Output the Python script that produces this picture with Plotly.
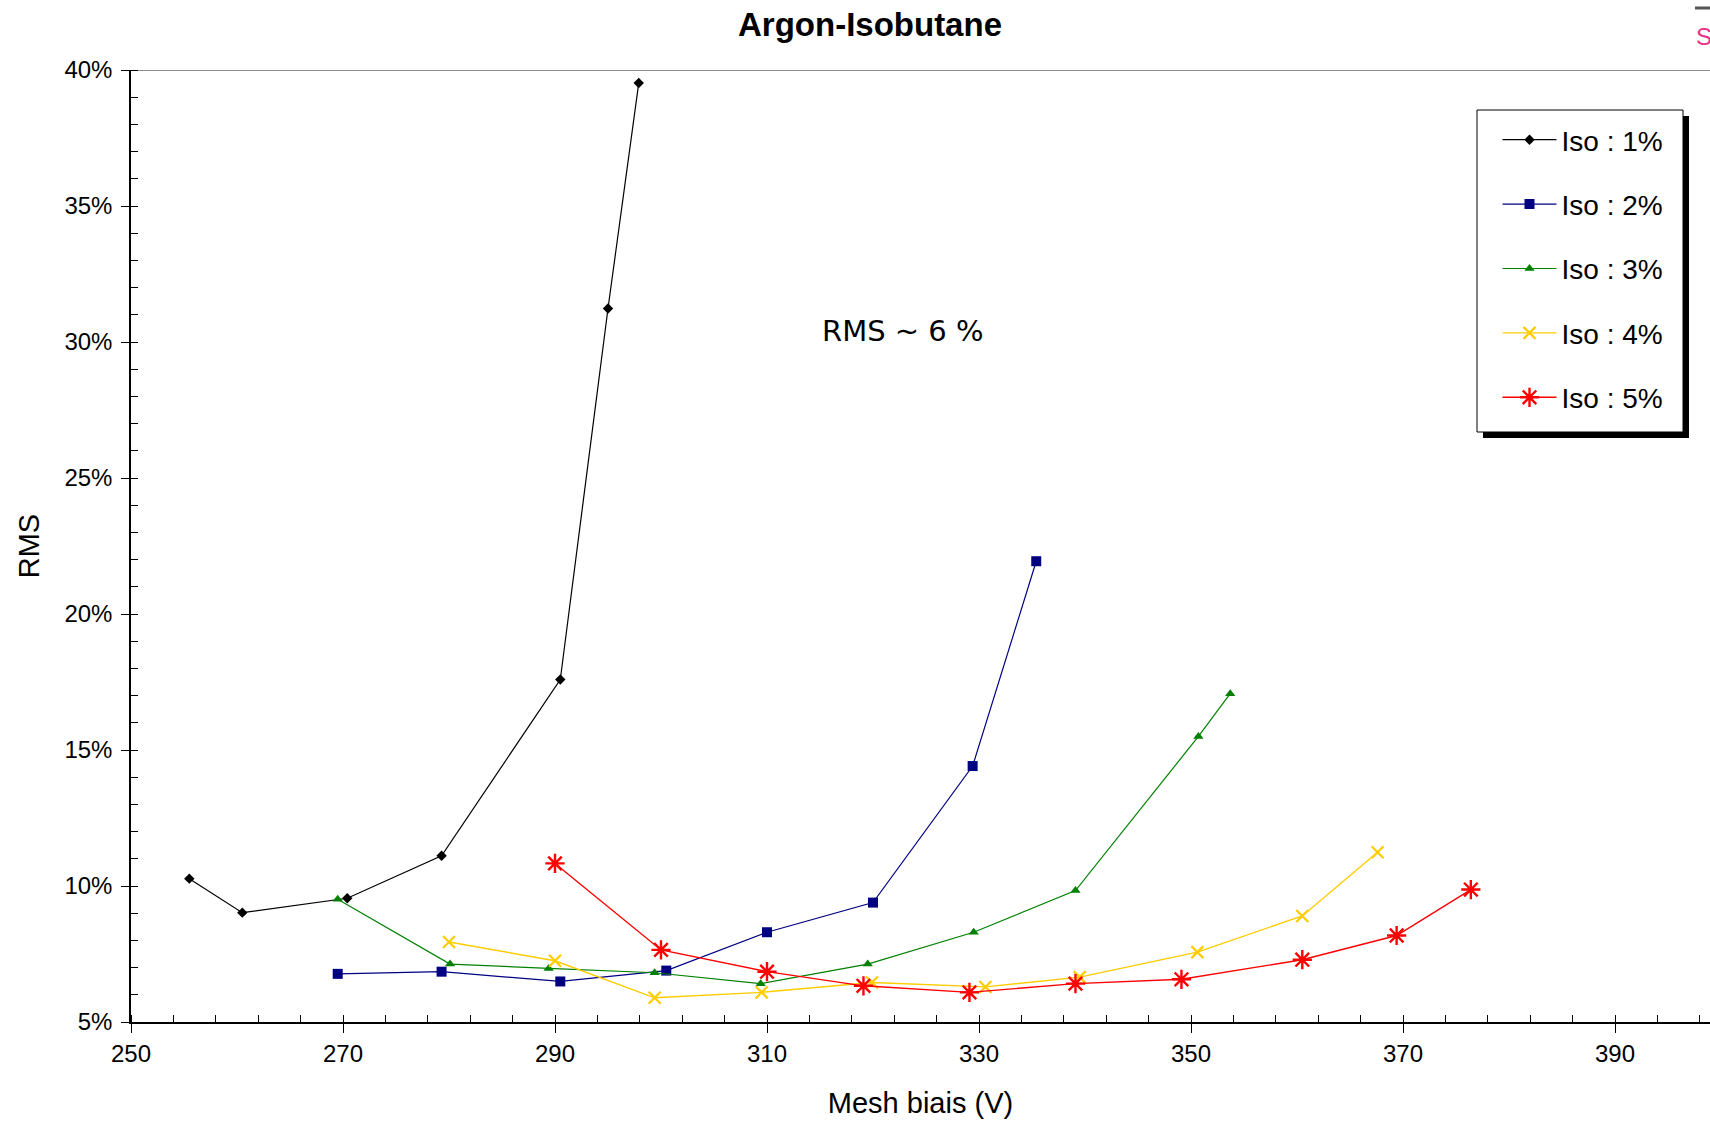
import plotly.graph_objects as go

# ---------------- data ----------------
iso1_v = [255.5, 260.5, 270.4, 279.3, 290.5, 295.0, 297.9]
iso1_rms = [10.27, 9.02, 9.55, 11.11, 17.59, 31.23, 39.52]

iso2_v = [269.5, 279.3, 290.5, 300.5, 310.0, 320.0, 329.4, 335.4]
iso2_rms = [6.77, 6.85, 6.49, 6.89, 8.30, 9.39, 14.41, 21.94]

iso3_v = [269.5, 280.1, 289.4, 299.4, 309.4, 319.5, 329.5, 339.1, 350.7, 353.7]
iso3_rms = [9.51, 7.13, 6.97, 6.81, 6.41, 7.13, 8.30, 9.83, 15.50, 17.07]

iso4_v = [280.0, 290.0, 299.4, 309.5, 319.9, 330.6, 339.5, 350.6, 360.5, 367.6]
iso4_rms = [7.94, 7.25, 5.89, 6.09, 6.45, 6.29, 6.65, 7.57, 8.90, 11.24]

iso5_v = [290.0, 300.0, 310.0, 319.1, 329.1, 339.1, 349.1, 360.5, 369.4, 376.4]
iso5_rms = [10.83, 7.65, 6.85, 6.33, 6.09, 6.41, 6.57, 7.29, 8.18, 9.87]

series_names = ["Iso : 1%", "Iso : 2%", "Iso : 3%", "Iso : 4%", "Iso : 5%"]
x_ticks = [250, 270, 290, 310, 330, 350, 370, 390]
y_ticks = [5, 10, 15, 20, 25, 30, 35, 40]
y_tick_labels = ["5%", "10%", "15%", "20%", "25%", "30%", "35%", "40%"]

# ---------------- styles ----------------
FONT = "Liberation Sans, Arial, Helvetica, sans-serif"
W, H = 1710, 1121
ML, MR, MT, MB = 131, 0, 70, 99
PW, PH = W - ML - MR, H - MT - MB


def px_x(px):  # figure pixel -> paper x
    return (px - ML) / PW


def px_y(py):  # figure pixel (from top) -> paper y
    return (H - MB - py) / PH


styles = [
    dict(color="#000000", symbol="diamond", size=8, lw=1.2, mlw=0),
    dict(color="#000080", symbol="square", size=10, lw=1.2, mlw=0),
    dict(color="#008000", symbol="triangle-up", size=9, lw=1.2, mlw=0),
    dict(color="#FFCC00", symbol="x-thin", size=12, lw=1.4, mlw=2.2),
    dict(color="#FF0000", symbol="asterisk", size=16, lw=1.4, mlw=2.4),
]

data = [(iso1_v, iso1_rms), (iso2_v, iso2_rms), (iso3_v, iso3_rms),
        (iso4_v, iso4_rms), (iso5_v, iso5_rms)]

fig = go.Figure()
for i, ((xs, ys), name, st) in enumerate(zip(data, series_names, styles)):
    marker = dict(symbol=st["symbol"], size=st["size"], color=st["color"])
    if st["mlw"]:
        marker["line"] = dict(color=st["color"], width=st["mlw"])
    fig.add_trace(go.Scatter(
        x=xs, y=ys, name=name, mode="lines+markers",
        line=dict(color=st["color"], width=st["lw"]),
        marker=marker, legendgroup=f"g{i}",
    ))

x_range = [250, 250 + PW / 10.6]

axis_common = dict(showgrid=False, zeroline=False, linecolor="#000000",
                   linewidth=1.5, tickcolor="#000000", tickwidth=1.2)

fig.update_layout(
    width=W, height=H,
    margin=dict(l=ML, r=MR, t=MT, b=MB, pad=0),
    paper_bgcolor="white", plot_bgcolor="white",
    font=dict(family=FONT, color="#000000", size=24),
    title=dict(text="<b>Argon-Isobutane</b>", x=870 / W, xanchor="center",
               y=1 - 24 / H, yanchor="middle",
               font=dict(family=FONT, size=33, color="#000000")),
    xaxis=dict(range=x_range, tickmode="array", tickvals=x_ticks,
               ticks="outside", ticklen=9, showline=True,
               tickfont=dict(size=24),
               minor=dict(dtick=4, tick0=250, ticks="inside", ticklen=7,
                          tickcolor="#000000", tickwidth=1),
               title=dict(text="Mesh biais (V)", font=dict(size=29), standoff=27),
               **axis_common),
    yaxis=dict(range=[5, 40], tickmode="array", tickvals=y_ticks,
               ticktext=y_tick_labels, ticks="outside", ticklen=8,
               showline=True, tickfont=dict(size=24), ticklabelstandoff=4,
               minor=dict(dtick=1, tick0=5, ticks="inside", ticklen=7,
                          tickcolor="#000000", tickwidth=1),
               title=dict(text="RMS", font=dict(size=29), standoff=16),
               **axis_common),
    xaxis2=dict(range=x_range, overlaying="x", anchor="y", tickmode="array",
                tickvals=x_ticks, ticks="inside", ticklen=9, tickcolor="#000000",
                tickwidth=1.2, showticklabels=False, showgrid=False,
                zeroline=False, showline=False),
    yaxis2=dict(range=[5, 40], overlaying="y", anchor="x", tickmode="array",
                tickvals=y_ticks, ticks="inside", ticklen=8, tickcolor="#000000",
                tickwidth=1.2, showticklabels=False, showgrid=False,
                zeroline=False, showline=False),
    showlegend=True,
    legend=dict(x=px_x(1497.5), xanchor="left", y=px_y(115), yanchor="top",
                bgcolor="rgba(0,0,0,0)", borderwidth=0,
                font=dict(family=FONT, size=28, color="#000000"),
                tracegroupgap=25, itemwidth=54),
)

# gray top border of the plot area
fig.add_shape(type="line", xref="paper", yref="y", x0=0, x1=1, y0=40, y1=40,
              line=dict(color="#8c8c8c", width=2), layer="below")

# legend frame: drop shadow + white box with black border
fig.add_shape(type="rect", xref="paper", yref="paper",
              x0=px_x(1483), x1=px_x(1689), y0=px_y(438), y1=px_y(116),
              fillcolor="#000000", line=dict(width=0), layer="above")
fig.add_shape(type="rect", xref="paper", yref="paper",
              x0=px_x(1477), x1=px_x(1683), y0=px_y(432), y1=px_y(110),
              fillcolor="#FFFFFF", line=dict(color="#000000", width=1),
              layer="above")

fig.add_annotation(text="RMS ~ 6 %", x=px_x(903), y=px_y(312),
                   xref="paper", yref="paper", showarrow=False,
                   font=dict(family="Comic Sans MS, DejaVu Sans, sans-serif",
                             size=29, color="#000000"))

# cut-off logo fragment in the top-right corner
fig.add_annotation(text="S", x=px_x(1694), y=px_y(37), xref="paper", yref="paper",
                   xanchor="left", yanchor="middle", showarrow=False,
                   font=dict(family=FONT, size=24, color="#E8308A"))
fig.add_shape(type="line", xref="paper", yref="paper",
              x0=px_x(1695), x1=px_x(1712), y0=px_y(8), y1=px_y(8),
              line=dict(color="#555555", width=3))

fig.write_html("out.html", config={"displayModeBar": False},
               post_script="document.body.style.margin='0';")
